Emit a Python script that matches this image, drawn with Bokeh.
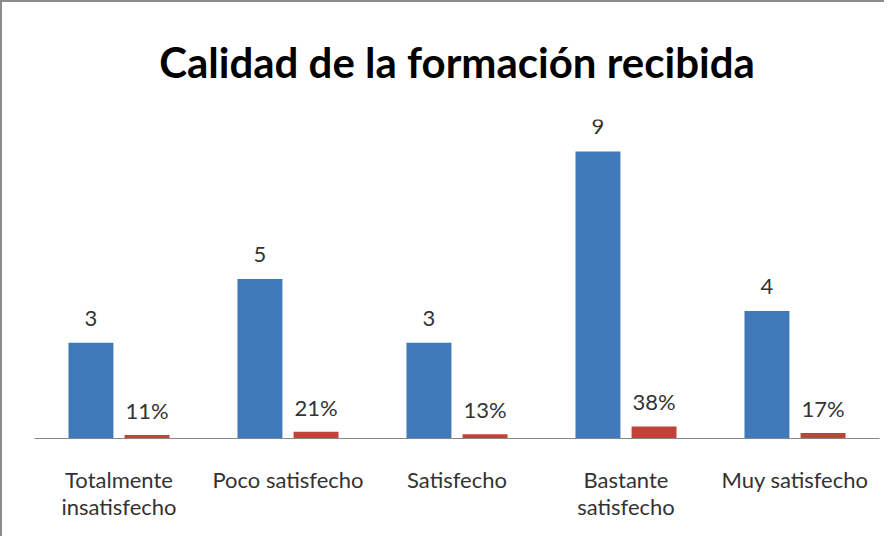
from bokeh.plotting import figure
from bokeh.models import FactorRange, ColumnDataSource, Range1d
from bokeh.transform import dodge
from bokeh.core.properties import value
from bokeh.embed import file_html
from bokeh.resources import INLINE

categories = ["Totalmente\ninsatisfecho", "Poco satisfecho", "Satisfecho", "Bastante\nsatisfecho", "Muy satisfecho"]
counts = [3, 5, 3, 9, 4]
shares = [0.11, 0.21, 0.13, 0.38, 0.17]

src = ColumnDataSource(dict(
    cat=categories,
    counts=counts,
    shares=shares,
    count_lbl=[str(c) for c in counts],
    share_lbl=[f"{round(s*100)}%" for s in shares],
))

FONT = "Lato"
p = figure(width=884, height=536, x_range=FactorRange(*categories), y_range=Range1d(0, 10),
           output_backend="svg", toolbar_location=None,
           min_border_left=32, min_border_right=7, min_border_top=116, min_border_bottom=100)
p.title.text = "Calidad de la formación recibida"
p.title.text_font = FONT
p.title.text_font_size = "42px"
p.title.text_font_style = "bold"
p.title.align = "center"
p.title.text_color = "#000000"
p.title.standoff = 65

p.vbar(x=dodge("cat", -0.166, range=p.x_range), top="counts", width=0.266, source=src,
       fill_color="#4079BA", line_color=None)
p.vbar(x=dodge("cat", 0.166, range=p.x_range), top="shares", width=0.266, source=src,
       fill_color="#C0433A", line_color=None)

p.text(x=dodge("cat", -0.166, range=p.x_range), y="counts", text="count_lbl", source=src,
       text_align="center", text_baseline="bottom", y_offset=-17,
       text_font=value(FONT), text_font_size="22px", text_color="#333333")
p.text(x=dodge("cat", 0.166, range=p.x_range), y="shares", text="share_lbl", source=src,
       text_align="center", text_baseline="bottom", y_offset=-11,
       text_font=value(FONT), text_font_size="22px", text_color="#333333")

p.yaxis.visible = False
p.xgrid.grid_line_color = None
p.ygrid.grid_line_color = None
p.outline_line_color = None
p.xaxis.axis_line_color = "#868686"
p.xaxis.axis_line_width = 1
p.xaxis.major_tick_line_color = None
p.xaxis.minor_tick_line_color = None
p.xaxis.major_label_text_font = FONT
p.xaxis.major_label_text_font_size = "22px"
p.xaxis.major_label_text_color = "#333333"
p.xaxis.major_label_text_line_height = 1.0
p.xaxis.major_label_standoff = 21
p.x_range.range_padding = 0
p.styles = {"border-left": "2px solid #8c8c8c", "border-top": "2px solid #8c8c8c", "box-sizing": "border-box"}

open("out.html", "w").write(file_html(p, INLINE))
